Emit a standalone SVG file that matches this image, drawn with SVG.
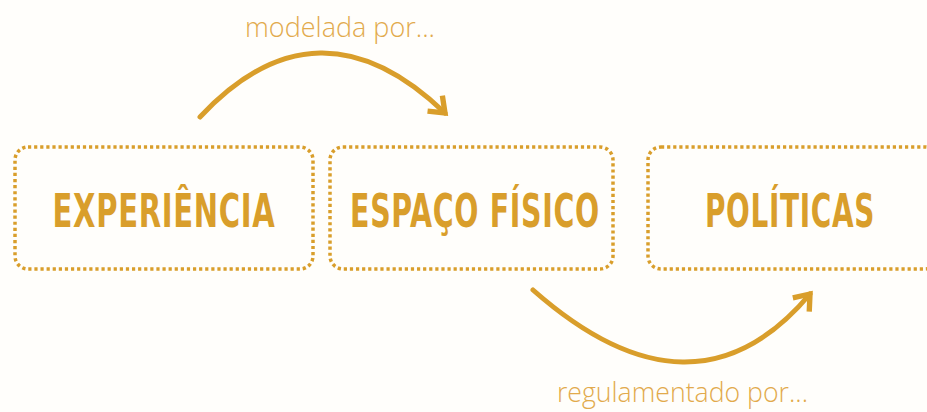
<svg xmlns="http://www.w3.org/2000/svg" width="927" height="412" viewBox="0 0 927 412">
<defs>
<style>
.box{fill:none;stroke:#D99E2B;stroke-width:3.5;stroke-dasharray:3.2 2.9}
.lbl{font-family:"Liberation Sans Narrow","DejaVu Sans Condensed","Liberation Sans",sans-serif;font-weight:bold;font-size:46px;fill:#D99E2B;letter-spacing:1px}
.cap{font-family:"Open Sans","Noto Sans",sans-serif;font-weight:300;font-size:28px;fill:#E2AA4C}
.arr{fill:none;stroke:#D99E2B;stroke-width:5;stroke-linecap:round}
</style>
<marker id="ah" markerUnits="userSpaceOnUse" markerWidth="30" markerHeight="30" viewBox="-16 -14 20 28" refX="0" refY="0" orient="auto">
<path d="M-13,-10 L0,0 L-13,10" fill="none" stroke="#D99E2B" stroke-width="5" stroke-linejoin="miter"/>
</marker>
</defs>
<rect width="927" height="412" fill="#FFFEFB"/>
<g id="node-experiencia">
<rect class="box" x="15" y="147" width="298" height="122" rx="13"/>
<text class="lbl" x="164" y="227" text-anchor="middle" textLength="223" lengthAdjust="spacingAndGlyphs">EXPERIÊNCIA</text>
</g>
<g id="node-espaco">
<rect class="box" x="330" y="147" width="283" height="122" rx="13"/>
<text class="lbl" x="475" y="227" text-anchor="middle" textLength="250" lengthAdjust="spacingAndGlyphs">ESPAÇO FÍSICO</text>
</g>
<g id="node-politicas">
<rect class="box" x="648" y="147" width="290" height="122" rx="13"/>
<text class="lbl" x="790" y="227" text-anchor="middle" textLength="170" lengthAdjust="spacingAndGlyphs">POLÍTICAS</text>
</g>
<g id="connectors">
<path class="arr" d="M200,117 Q318,-9 445,113" marker-end="url(#ah)"/>
<path class="arr" d="M533,290 Q694,432 810,294" marker-end="url(#ah)"/>
<text class="cap" x="245" y="37" textLength="190" lengthAdjust="spacingAndGlyphs">modelada por...</text>
<text class="cap" x="557" y="402" textLength="251" lengthAdjust="spacingAndGlyphs">regulamentado por...</text>
</g>
</svg>
